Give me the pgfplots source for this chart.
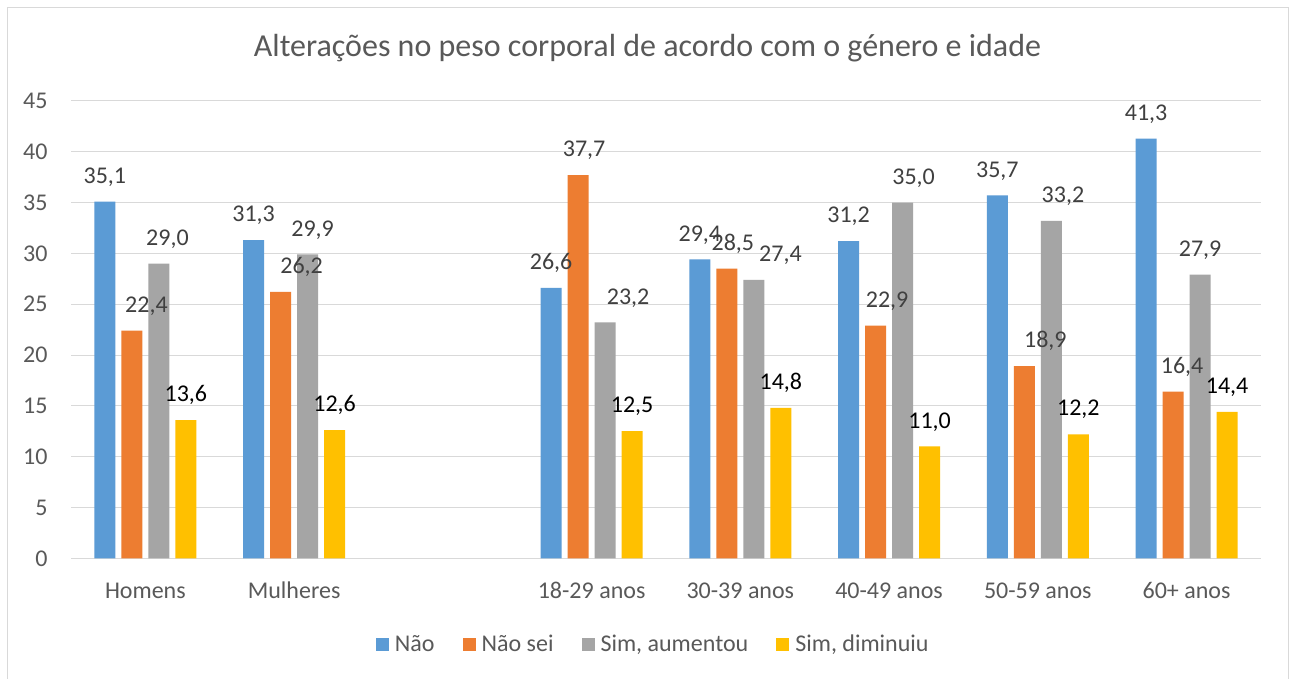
\documentclass[border=0pt]{standalone}
\usepackage{fontspec}
\setmainfont{Carlito}
\usepackage{pgfplots}
\usepackage{pgfplotstable}
\pgfplotsset{compat=1.18}
\definecolor{cblue}{HTML}{5B9BD5}
\definecolor{corange}{HTML}{ED7D31}
\definecolor{cgrey}{HTML}{A5A5A5}
\definecolor{cyellow}{HTML}{FFC000}
\definecolor{cgrid}{HTML}{D9D9D9}
\definecolor{ctext}{HTML}{595959}
\definecolor{clabel}{HTML}{404040}

\pgfplotstableread{
x y dx
0 35.1 0
1 31.3 0
3 26.6 0
4 29.4 0
5 31.2 0
6 35.7 0
7 41.3 0
}\nao
\pgfplotstableread{
x y dx
0 22.4 14.6
1 26.2 21
3 37.7 6
4 28.5 6
5 22.9 11.5
6 18.9 21
7 16.4 9
}\naosei
\pgfplotstableread{
x y dx
0 29.0 8.6
1 29.9 5
3 23.2 23
4 27.4 26.6
5 35.0 11
6 33.2 11.6
7 27.9 0
}\aumentou
\pgfplotstableread{
x y dx
0 13.6 0
1 12.6 0
3 12.5 0
4 14.8 0
5 11.0 0
6 12.2 0
7 14.4 0
}\diminuiu

\pgfplotsset{
  sq/.style={legend image code/.code={\fill[##1] (0pt,-6.5pt) rectangle (13pt,6.5pt);}},
}

\begin{document}
\begin{tikzpicture}
\useasboundingbox (0,0) rectangle (1295pt,678pt);
\fill[white] (0,0) rectangle (1295pt,678pt);
\draw[cgrid, line width=1pt] (7pt,-10pt) -- (7pt,670pt) -- (1288.5pt,670pt) -- (1288.5pt,-10pt);
\node[anchor=base, inner sep=0pt, font=\fontsize{32}{38}\selectfont, text=ctext] at (647.5pt,621.3pt) {Alterações no peso corporal de acordo com o género e idade};
\begin{axis}[
  at={(71pt,119.7pt)}, anchor=south west,
  scale only axis, width=1190pt, height=457.4pt,
  xmin=-0.5, xmax=7.5, ymin=0, ymax=45,
  enlargelimits=false,
  ytick={0,5,...,45},
  xtick={0,1,3,4,5,6,7},
  xticklabels={Homens,Mulheres,18-29 anos,30-39 anos,40-49 anos,50-59 anos,60+ anos},
  ymajorgrids, grid style={cgrid, line width=1pt},
  axis line style={draw=none},
  major tick length=0pt, tick style={draw=none},
  /pgf/number format/assume math mode=true,
  tick label style={font=\fontsize{24}{28}\selectfont, text=ctext},
  yticklabel style={anchor=east, inner sep=0pt, xshift=-23.3pt},
  xticklabel style={anchor=base, inner sep=0pt, yshift=-40pt},
  ybar=6pt, bar width=21pt,
  nodes near coords={\pgfmathprintnumber[fixed, fixed zerofill, precision=1, use comma, assume math mode=true]{\pgfplotspointmeta}},
  visualization depends on={\thisrow{dx} \as \dx},
  every node near coord/.append style={anchor=base, inner sep=0pt, yshift=18.3pt, xshift=\dx pt, font=\fontsize{24}{28}\selectfont, text=clabel},
  legend columns=-1,
  legend style={at={(0.4885,-0.1874)}, anchor=center, draw=none, fill=none, inner sep=0pt,
    font=\fontsize{24}{28}\selectfont, text=ctext,
    nodes={inner sep=0pt},
    /tikz/every odd column/.append style={column sep=6pt},
    /tikz/every even column/.append style={column sep=28pt}},
]
\addplot[fill=cblue, draw=none, sq] table[x=x,y=y] {\nao};
\addlegendentry{Não}
\addplot[fill=corange, draw=none, sq] table[x=x,y=y] {\naosei};
\addlegendentry{Não sei}
\addplot[fill=cgrey, draw=none, sq] table[x=x,y=y] {\aumentou};
\addlegendentry{Sim, aumentou}
\addplot[fill=cyellow, draw=none, sq, every node near coord/.append style={text=black}] table[x=x,y=y] {\diminuiu};
\addlegendentry{Sim, diminuiu}
\end{axis}
\end{tikzpicture}
\end{document}
